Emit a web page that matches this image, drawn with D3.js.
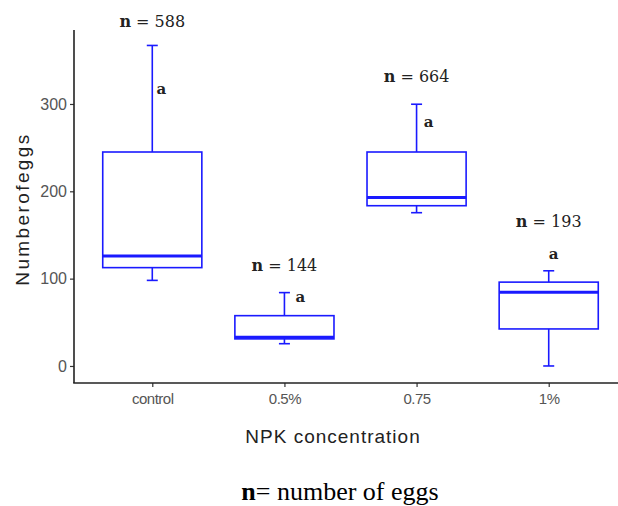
<!DOCTYPE html>
<html>
<head>
<meta charset="utf-8">
<script src="https://cdn.jsdelivr.net/npm/d3@7"></script>
<style>
  body { margin: 0; background: #fff; }
  svg { display: block; }
</style>
</head>
<body>
<div id="chart"></div>
<script>
// data
var groups = ['control', '0.5%', '0.75', '1%']
var lower  = [98, 25.5, 175.5, 0]
var q1     = [112.6, 31, 183.5, 42.4]
var median = [126, 32.9, 193, 84.4]
var q3     = [245, 57.6, 245, 96]
var upper  = [367, 84, 299.7, 109]
var nEggs  = [588, 144, 664, 193]
var letters = ['a', 'a', 'a', 'a']
var yTicks = [0, 100, 200, 300]

// where the annotations sit, in data units
var nLabelAt = [394, 115.6, 331, 165]
var letterAt = [318, 79, 280, 129]
var letterShift = [9, 16, 12, 5]

var W = 618, H = 506
var boxColor = '#1a1aff'

var svg = d3.select('#chart').append('svg')
    .attr('width', W)
    .attr('height', H)

var x = d3.scalePoint()
    .domain(groups)
    .range([73, 628])
    .padding(0.6)

var y = d3.scaleLinear()
    .domain([-19.5, 384.7])
    .range([383, 30])

var boxW = x.step() * 0.75

var rows = groups.map(function(g, i){
    return { g: g, lo: lower[i], q1: q1[i], med: median[i], q3: q3[i], hi: upper[i],
             n: nEggs[i], letter: letters[i], nAt: nLabelAt[i], lAt: letterAt[i], dx: letterShift[i] }
})

// axes
var yAxis = svg.append('g')
    .attr('transform', 'translate(74,0)')
    .call(d3.axisLeft(y).tickValues(yTicks).tickSize(4).tickPadding(3).tickFormat(d3.format('d')))
yAxis.select('.domain').remove()
yAxis.selectAll('.tick line').attr('stroke', '#333').attr('stroke-width', 1.2)
yAxis.selectAll('.tick text')
    .attr('fill', '#555')
    .attr('font-family', 'Liberation Sans, Arial, sans-serif')
    .attr('font-size', 16)

var xAxis = svg.append('g')
    .attr('transform', 'translate(0,383)')
    .call(d3.axisBottom(x).tickSize(4).tickPadding(6))
xAxis.select('.domain').remove()
xAxis.selectAll('.tick line').attr('stroke', '#333').attr('stroke-width', 1.2)
xAxis.selectAll('.tick text')
    .attr('fill', '#555')
    .attr('font-family', 'Liberation Sans, Arial, sans-serif')
    .attr('font-size', 15)
    .attr('letter-spacing', -0.5)

svg.append('line')
    .attr('x1', 74).attr('x2', 74)
    .attr('y1', 30).attr('y2', 383)
    .attr('stroke', '#222').attr('stroke-width', 1.6)
svg.append('line')
    .attr('x1', 73.2).attr('x2', W)
    .attr('y1', 383).attr('y2', 383)
    .attr('stroke', '#222').attr('stroke-width', 1.6)

// boxes
var box = svg.selectAll('g.box')
    .data(rows)
    .enter().append('g')
    .attr('class', 'box')

box.append('line')
    .attr('x1', function(d){ return x(d.g) })
    .attr('x2', function(d){ return x(d.g) })
    .attr('y1', function(d){ return y(d.hi) })
    .attr('y2', function(d){ return y(d.q3) })
    .attr('stroke', boxColor).attr('stroke-width', 1.6)

box.append('line')
    .attr('x1', function(d){ return x(d.g) })
    .attr('x2', function(d){ return x(d.g) })
    .attr('y1', function(d){ return y(d.q1) })
    .attr('y2', function(d){ return y(d.lo) })
    .attr('stroke', boxColor).attr('stroke-width', 1.6)

// whisker caps
box.selectAll('line.cap')
    .data(function(d){ return [{ g: d.g, v: d.hi }, { g: d.g, v: d.lo }] })
    .enter().append('line')
    .attr('class', 'cap')
    .attr('x1', function(d){ return x(d.g) - 5.5 })
    .attr('x2', function(d){ return x(d.g) + 5.5 })
    .attr('y1', function(d){ return y(d.v) })
    .attr('y2', function(d){ return y(d.v) })
    .attr('stroke', boxColor).attr('stroke-width', 1.6)

box.append('rect')
    .attr('x', function(d){ return x(d.g) - boxW / 2 })
    .attr('width', boxW)
    .attr('y', function(d){ return y(d.q3) })
    .attr('height', function(d){ return y(d.q1) - y(d.q3) })
    .attr('fill', '#fff')
    .attr('stroke', boxColor).attr('stroke-width', 1.6)

box.append('line')
    .attr('x1', function(d){ return x(d.g) - boxW / 2 })
    .attr('x2', function(d){ return x(d.g) + boxW / 2 })
    .attr('y1', function(d){ return y(d.med) })
    .attr('y2', function(d){ return y(d.med) })
    .attr('stroke', boxColor).attr('stroke-width', 3)

// n = ... labels
var nText = svg.selectAll('text.nlab')
    .data(rows)
    .enter().append('text')
    .attr('class', 'nlab')
    .attr('x', function(d){ return x(d.g) })
    .attr('y', function(d){ return y(d.nAt) })
    .attr('dy', '0.35em')
    .attr('text-anchor', 'middle')
    .attr('font-family', 'DejaVu Serif, serif')
    .attr('font-size', 16)
    .attr('fill', '#222')
nText.append('tspan').attr('font-weight', 'bold').text('n')
nText.append('tspan').text(function(d){ return ' = ' + d.n })

svg.selectAll('text.letter')
    .data(rows)
    .enter().append('text')
    .attr('class', 'letter')
    .attr('x', function(d){ return x(d.g) + d.dx })
    .attr('y', function(d){ return y(d.lAt) })
    .attr('dy', '0.35em')
    .attr('text-anchor', 'middle')
    .attr('font-family', 'DejaVu Serif, serif')
    .attr('font-weight', 'bold')
    .attr('font-size', 15)
    .attr('fill', '#222')
    .text(function(d){ return d.letter })

// axis titles
svg.append('text')
    .attr('x', 333)
    .attr('y', 443)
    .attr('text-anchor', 'middle')
    .attr('font-family', 'Liberation Sans, Arial, sans-serif')
    .attr('font-size', 19)
    .attr('letter-spacing', 1)
    .attr('fill', '#222')
    .text('NPK concentration')

svg.append('text')
    .attr('transform', 'translate(29,209) rotate(-90)')
    .attr('text-anchor', 'middle')
    .attr('font-family', 'Liberation Sans, Arial, sans-serif')
    .attr('font-size', 19)
    .attr('letter-spacing', 2.4)
    .attr('fill', '#222')
    .text('Numberofeggs')

// caption under the chart
var cap = svg.append('text')
    .attr('x', 340)
    .attr('y', 500)
    .attr('text-anchor', 'middle')
    .attr('font-family', 'Liberation Serif, Times New Roman, serif')
    .attr('font-size', 26)
    .attr('fill', '#000')
cap.append('tspan').attr('font-weight', 'bold').text('n')
cap.append('tspan').text('= number of eggs')
</script>
</body>
</html>
